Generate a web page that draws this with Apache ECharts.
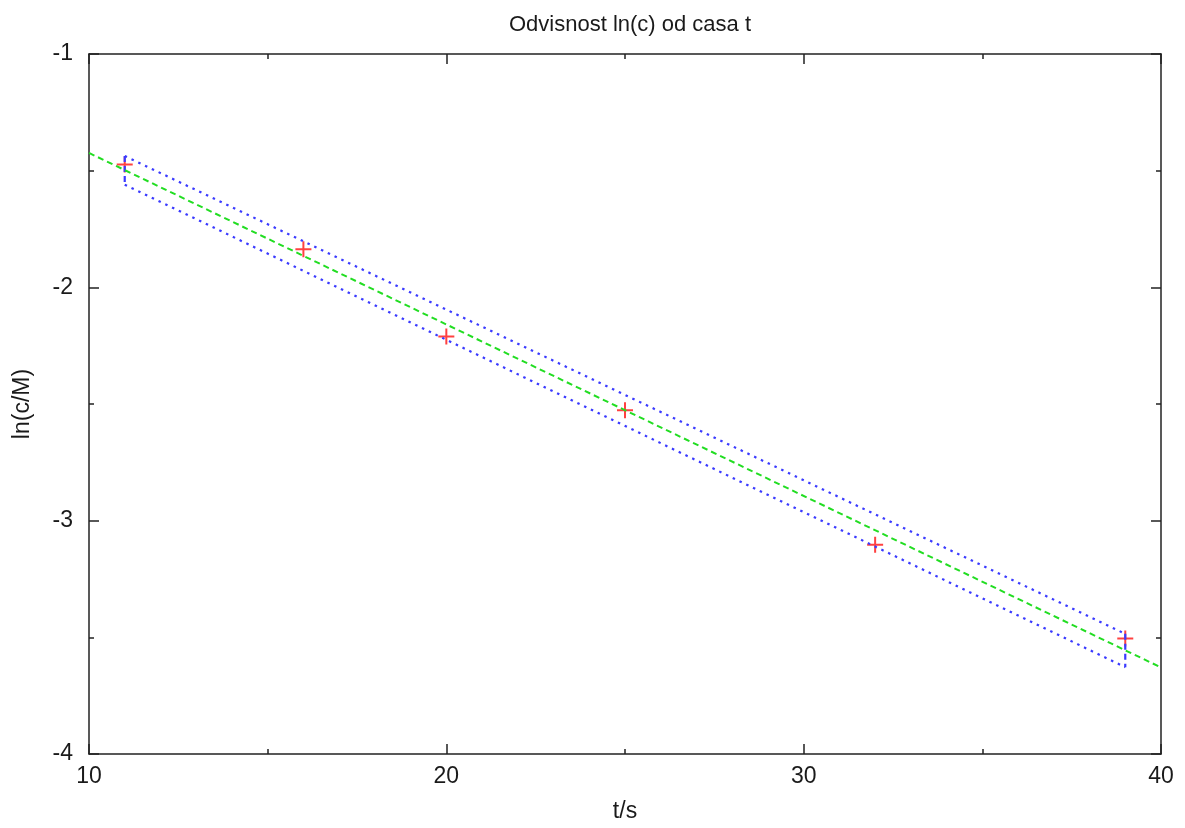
<!DOCTYPE html>
<html>
<head>
<meta charset="utf-8">
<script src="https://cdn.jsdelivr.net/npm/echarts@6/dist/echarts.min.js"></script>
<style>html,body{margin:0;padding:0;background:#fff}#c{width:1185px;height:828px}</style>
</head>
<body>
<div id="c"></div>
<script>
// measured data
const tValues = [11, 16, 20, 25, 32, 39];
const lnC = [-1.474, -1.837, -2.211, -2.527, -3.103, -3.505];
// linear fit line
const fitT = [10, 40];
const fitLn = [-1.424, -3.629];
// band around the fit
const bandT = [11, 39];
const bandUpper = [-1.437, -3.485];
const bandLower = [-1.560, -3.628];
// axes
const xTicks = [10, 20, 30, 40];
const yTicks = [-1, -2, -3, -4];

const pts = tValues.map((t, i) => [t, lnC[i]]);
const fitPts = fitT.map((t, i) => [t, fitLn[i]]);
const upperPts = bandT.map((t, i) => [t, bandUpper[i]]);
const lowerPts = bandT.map((t, i) => [t, bandLower[i]]);
const capL = [[bandT[0], bandUpper[0]], [bandT[0], bandLower[0]]];
const capR = [[bandT[1], bandUpper[1]], [bandT[1], bandLower[1]]];

const font = 'Liberation Sans, Arial, sans-serif';
const axisCol = '#222';
const txtCol = '#1a1a1a';
const baseX = {
  type: 'value', min: xTicks[0], max: xTicks[xTicks.length - 1], interval: 10,
  axisLine: {show: true, onZero: false, lineStyle: {color: axisCol, width: 1.5}},
  axisTick: {show: true, inside: true, length: 10, lineStyle: {color: axisCol, width: 1.5}},
  minorTick: {show: true, splitNumber: 2, length: 5, lineStyle: {color: axisCol, width: 1.5}},
  splitLine: {show: false}
};
const baseY = {
  type: 'value', min: yTicks[yTicks.length - 1], max: yTicks[0], interval: 1,
  axisLine: {show: true, onZero: false, lineStyle: {color: axisCol, width: 1.5}},
  axisTick: {show: true, inside: true, length: 10, lineStyle: {color: axisCol, width: 1.5}},
  minorTick: {show: true, splitNumber: 2, length: 5, lineStyle: {color: axisCol, width: 1.5}},
  splitLine: {show: false}
};

const chart = echarts.init(document.getElementById('c'), null, {renderer: 'canvas'});
chart.setOption({
  animation: false,
  backgroundColor: '#fff',
  title: {
    text: 'Odvisnost ln(c) od casa t', left: 625, top: 9, textAlign: 'center',
    textStyle: {fontFamily: font, fontSize: 22, fontWeight: 'normal', color: txtCol}
  },
  grid: {left: 89, right: 24, top: 54, bottom: 71},
  xAxis: [
    Object.assign({}, baseX, {
      position: 'bottom', name: 't/s', nameLocation: 'middle', nameGap: 46,
      nameTextStyle: {fontFamily: font, fontSize: 23, color: txtCol},
      axisLabel: {show: true, margin: 11, fontFamily: font, fontSize: 23, color: txtCol}
    }),
    Object.assign({}, baseX, {position: 'top', axisLabel: {show: false}})
  ],
  yAxis: [
    Object.assign({}, baseY, {
      position: 'left', name: 'ln(c/M)', nameLocation: 'middle', nameGap: 55,
      nameTextStyle: {fontFamily: font, fontSize: 23, color: txtCol},
      axisLabel: {show: true, margin: 16, fontFamily: font, fontSize: 23, color: txtCol}
    }),
    Object.assign({}, baseY, {position: 'right', axisLabel: {show: false}})
  ],
  series: [
    {type: 'line', data: upperPts, showSymbol: false, silent: true,
      lineStyle: {color: '#3a3aff', width: 2.2, type: [2.5, 5]}},
    {type: 'line', data: lowerPts, showSymbol: false, silent: true,
      lineStyle: {color: '#3a3aff', width: 2.2, type: [2.5, 5]}},
    {type: 'line', data: capL, showSymbol: false, silent: true,
      lineStyle: {color: '#3a3aff', width: 2.2, type: [6, 4]}},
    {type: 'line', data: capR, showSymbol: false, silent: true,
      lineStyle: {color: '#3a3aff', width: 2.2, type: [6, 4]}},
    {type: 'line', data: fitPts, showSymbol: false, silent: true,
      lineStyle: {color: '#22dd22', width: 2, type: [6, 4]}},
    {type: 'scatter', data: pts, silent: true,
      symbol: 'path://M0,7h16v2H0z M7,0h2v16H7z', symbolSize: 16,
      itemStyle: {color: '#ff1111'}}
  ]
});
</script>
</body>
</html>
